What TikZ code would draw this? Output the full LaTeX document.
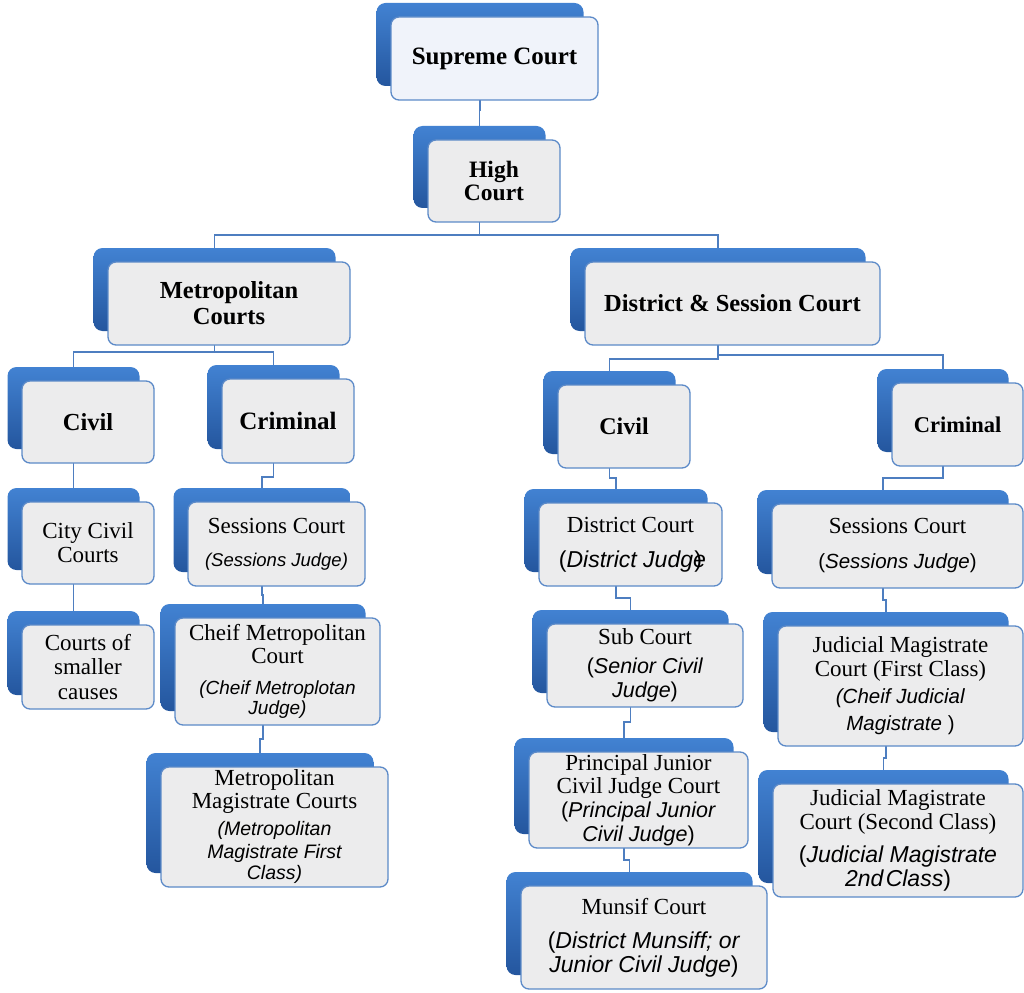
\documentclass[tikz,border=0pt]{standalone}
\usepackage{fontspec}
\setmainfont{Liberation Serif}
\newfontfamily\arial{Liberation Sans}
\pgfdeclarelayer{bg}
\pgfsetlayers{bg,main}
\definecolor{shadtop}{RGB}{66,130,210}
\definecolor{shadbot}{RGB}{36,86,158}
\definecolor{frontfill}{RGB}{236,236,237}
\definecolor{scfill}{RGB}{240,243,250}
\definecolor{frontline}{RGB}{92,138,200}
\definecolor{connc}{RGB}{78,126,192}
\tikzset{
  shadowbox/.style={rectangle, rounded corners=9pt, top color=shadtop, bottom color=shadbot, draw=none, inner sep=0pt, outer sep=0pt},
  frontbox/.style={rectangle, rounded corners=8pt, fill=frontfill, draw=frontline, line width=1.3pt, inner sep=0pt, outer sep=0pt, align=center, text=black, font=\fontsize{23}{24}\selectfont},
  conn/.style={draw=connc, line width=1.2pt},
}
\newcommand{\court}[7][]{%
  \pgfmathsetmacro\cw{#5-#3}\pgfmathsetmacro\ch{#6-#4}%
  \pgfmathsetmacro\cx{(#3+#5)/2}\pgfmathsetmacro\cy{(#4+#6)/2}%
  \node[shadowbox, minimum width=\cw pt, minimum height=\ch pt] (#2-s) at (\cx-14.5,\cy-14) {};
  \node[frontbox, minimum width=\cw pt, minimum height=\ch pt, #1] (#2) at (\cx,\cy) {#7};
}
\newcommand{\conn}[3]{\draw[conn] (#1-s.south) -- (#1-s.south |- 0,#3) -- (#2-s.north |- 0,#3) -- (#2-s.north);}
\newcommand{\bt}[1]{\fontsize{#1}{#1}\selectfont\bfseries}
\newcommand{\rg}{\fontsize{23}{24}\selectfont}
\newcommand{\ia}[1]{\fontsize{#1}{#1}\selectfont\arial\itshape}
\newcommand{\ra}[1]{\fontsize{#1}{#1}\selectfont\arial}
\begin{document}
\begin{tikzpicture}[x=1pt,y=-1pt]
\useasboundingbox (0,0) rectangle (1024,992);
% top
\court[fill=scfill]{sc}{391}{17}{598}{100}{\bt{25}Supreme Court}
\court{hc}{428}{140}{560}{222}{\bt{23.5}High\\[-1pt]\bt{23.5}Court}
\court{mc}{108}{262}{350}{345}{\bt{24.5}Metropolitan\\[2pt]\bt{24.5}Courts}
\court{ds}{585}{262}{880}{345}{\bt{24.5}District \& Session Court}
% second level
\court{civL}{22}{381}{154}{463}{\bt{24.5}Civil}
\court{crL}{222}{379}{354}{463}{\bt{25}Criminal}
\court{civR}{558}{385}{690}{468}{\bt{24}Civil}
\court{crR}{892}{383}{1023}{466}{\bt{22.5}Criminal}
% left civil
\court{city}{22}{502}{154}{584}{\rg City Civil\\\rg Courts}
\court{small}{22}{625}{154}{709}{\rg Courts of\\[0.5pt]\rg smaller\\[0.5pt]\rg causes}
% left criminal
\court{sesL}{188}{502}{365}{586}{\rg Sessions Court\\[9pt]\ia{18.5}(Sessions Judge)}
\court{cmc}{175}{618}{380}{725}{\rg Cheif Metropolitan\\[-1pt]\rg Court\\[7pt]\ia{19}(Cheif Metroplotan\\[-4pt]\ia{19}Judge)}
\court{mmc}{161}{767}{388}{887}{\rg Metropolitan\\[-1pt]\rg Magistrate Courts\\[3pt]\ia{19.5}(Metropolitan\\[-1pt]\ia{19.5}Magistrate First\\[-3pt]\ia{19.5}Class)}
% right civil
\court{dc}{539}{503}{722}{586}{\rg District Court\\[11pt]\ra{23}(\textit{District Judge}\kern-0.5em)}
\court{sub}{547}{624}{743}{707}{\rg Sub Court\\[5pt]\ra{21.5}(\textit{Senior Civil}\\\ra{21.5}\textit{Judge})}
\court{pjc}{529}{752}{748}{848}{\rg Principal Junior\\[-1pt]\rg Civil Judge Court\\\ra{21.5}(\textit{Principal Junior}\\\ra{21.5}\textit{Civil Judge})}
\court{mun}{521}{886}{767}{989}{\rg Munsif Court\\[10pt]\ra{23}(\textit{District Munsiff; or}\\\ra{23}\textit{Junior Civil Judge})}
% right criminal
\court{sesR}{772}{504}{1023}{588}{\rg Sessions Court\\[11pt]\ra{20.5}(\textit{Sessions Judge})}
\court{jm1}{778}{626}{1023}{746}{\rg Judicial Magistrate\\\rg Court (First Class)\\[3pt]\ra{20.5}\textit{(Cheif Judicial}\\[3pt]\ra{20.5}\textit{Magistrate} )}
\court{jm2}{773}{784}{1023}{897}{\rg Judicial Magistrate\\\rg Court (Second Class)\\[9pt]\ra{23}(\textit{Judicial Magistrate}\\\ra{23}\textit{2nd\hspace{0.1em}Class})}
% connectors
\begin{pgfonlayer}{bg}
\conn{sc}{hc}{110}
\conn{hc}{mc}{235}
\conn{hc}{ds}{235}
\conn{mc}{civL}{352}
\conn{mc}{crL}{352}
\conn{ds}{civR}{359}
\conn{ds}{crR}{355}
\conn{civL}{city}{475}
\conn{city}{small}{598}
\conn{crL}{sesL}{477}
\conn{sesL}{cmc}{595}
\conn{cmc}{mmc}{739}
\conn{civR}{dc}{478}
\conn{dc}{sub}{598}
\conn{sub}{pjc}{722}
\conn{pjc}{mun}{860}
\conn{crR}{sesR}{478}
\conn{sesR}{jm1}{600}
\conn{jm1}{jm2}{758}
\end{pgfonlayer}
\end{tikzpicture}
\end{document}
